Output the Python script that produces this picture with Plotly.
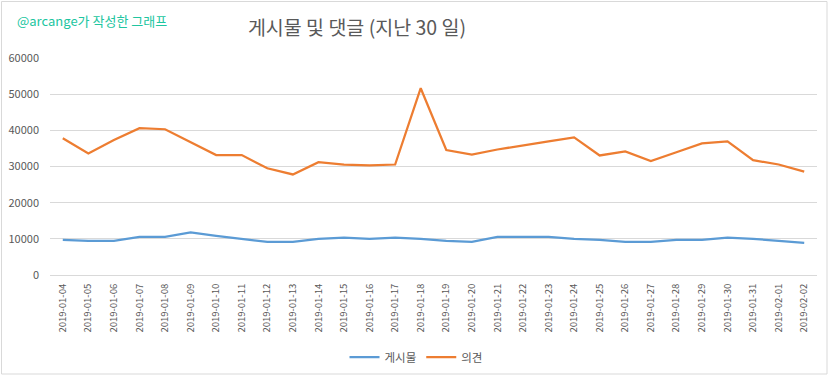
import plotly.graph_objects as go

dates = ["2019-01-04", "2019-01-05", "2019-01-06", "2019-01-07", "2019-01-08", "2019-01-09",
         "2019-01-10", "2019-01-11", "2019-01-12", "2019-01-13", "2019-01-14", "2019-01-15",
         "2019-01-16", "2019-01-17", "2019-01-18", "2019-01-19", "2019-01-20", "2019-01-21",
         "2019-01-22", "2019-01-23", "2019-01-24", "2019-01-25", "2019-01-26", "2019-01-27",
         "2019-01-28", "2019-01-29", "2019-01-30", "2019-01-31", "2019-02-01", "2019-02-02"]

posts = [9700, 9450, 9450, 10550, 10550, 11750, 10850, 10100, 9150, 9150,
         10000, 10300, 10000, 10300, 10000, 9450, 9150, 10550, 10550, 10550,
         10000, 9700, 9150, 9150, 9700, 9700, 10300, 10000, 9450, 8900]

comments = [37800, 33600, 37300, 40600, 40300, 36750, 33150, 33150, 29500, 27800,
            31200, 30550, 30300, 30550, 51650, 34550, 33300, 34700, 35900, 36950,
            38050, 33050, 34150, 31500, 33950, 36400, 36950, 31750, 30550, 28600]

y_ticks = [0, 10000, 20000, 30000, 40000, 50000, 60000]

W, H = 832, 378
ML, MR, MT, MB = 50, 15, 58, 103
pw = W - ML - MR
ph = H - MT - MB

font_main = "Noto Sans CJK KR, Noto Sans, sans-serif"

fig = go.Figure()
fig.add_trace(go.Scatter(x=dates, y=posts, mode="lines", name="게시물",
                         line=dict(color="#5b9bd5", width=2.25)))
fig.add_trace(go.Scatter(x=dates, y=comments, mode="lines", name="의견",
                         line=dict(color="#ed7d31", width=2.25)))

def px_x(px):
    return (px - ML) / pw

def px_y(py):
    return (H - MB - py) / ph

fig.update_layout(
    width=W, height=H,
    margin=dict(l=ML, r=MR, t=MT, b=MB, autoexpand=False),
    paper_bgcolor="white", plot_bgcolor="white",
    font=dict(family=font_main, color="#595959"),
    title=dict(text="게시물 및 댓글 (지난 30 일)", x=357 / W, xref="container",
               xanchor="center", y=1 - 28 / H, yref="container", yanchor="middle",
               font=dict(size=19.5, color="#595959", family=font_main)),
    xaxis=dict(type="category", range=[-0.5, len(dates) - 0.5], tickangle=-90,
               tickfont=dict(size=9.5, color="#595959"), showgrid=False,
               showline=True, linecolor="#d9d9d9", linewidth=1, ticks="",
               ticklen=0, automargin=False, ticklabelstandoff=4),
    yaxis=dict(range=[0, 60000], tickvals=y_ticks, ticktext=[str(v) for v in y_ticks],
               tickfont=dict(size=11, color="#595959"), showgrid=True,
               gridcolor="#d9d9d9", gridwidth=1, zeroline=False, ticks="",
               showline=False, ticklabelstandoff=10, automargin=False),
    legend=dict(orientation="h", x=px_x(416), xanchor="center", y=px_y(357),
                yanchor="middle", font=dict(size=11.5, color="#595959"),
                bgcolor="rgba(0,0,0,0)", itemwidth=30),
    showlegend=True,
    annotations=[dict(text="@arcange가 작성한 그래프", xref="paper", yref="paper",
                      x=px_x(15), y=px_y(21), xanchor="left", yanchor="middle",
                      showarrow=False, font=dict(size=13, color="#20c5a0", family=font_main))],
    shapes=[dict(type="rect", xref="paper", yref="paper",
                 x0=px_x(1.5), x1=px_x(827), y0=px_y(374), y1=px_y(1.5),
                 line=dict(color="#d9d9d9", width=1), fillcolor="rgba(0,0,0,0)", layer="below")],
)

fig.write_html("out.html",
               config={"displayModeBar": False},
               post_script="document.body.style.margin='0';document.body.style.overflow='hidden';")
